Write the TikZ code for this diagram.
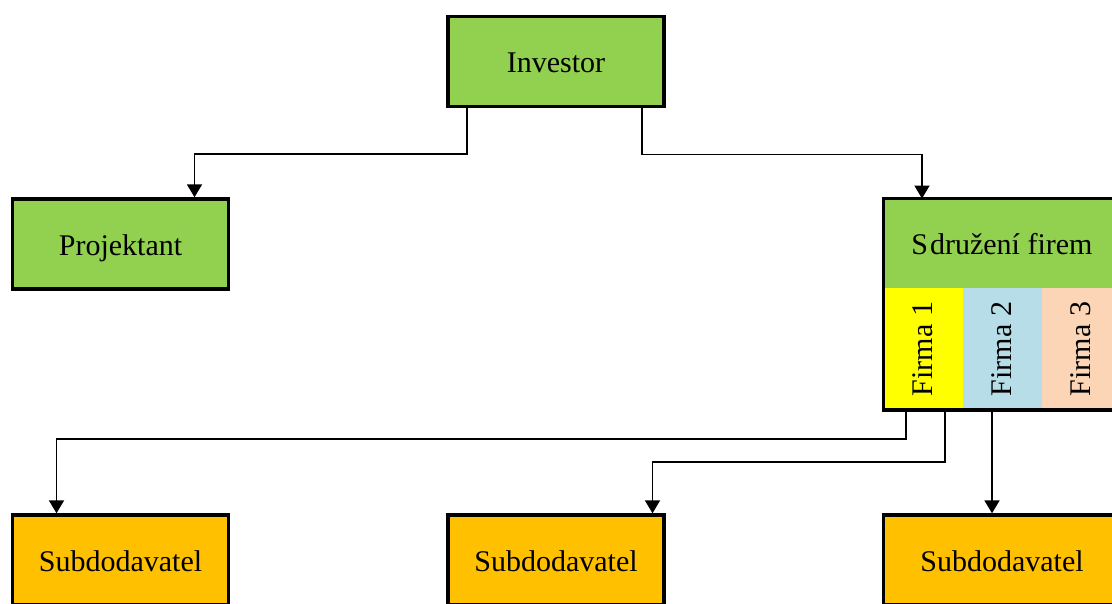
\documentclass[tikz,border=0pt]{standalone}
\usepackage{fontspec}
\setmainfont{Liberation Serif}
\usetikzlibrary{arrows.meta,calc,positioning}
\definecolor{boxgreen}{HTML}{92D050}
\definecolor{boxorange}{HTML}{FFC000}
\definecolor{firmyellow}{HTML}{FFFF00}
\definecolor{firmblue}{HTML}{B7DDE8}
\definecolor{firmpeach}{HTML}{FBD5B5}
\tikzset{
  boxfont/.style={font=\fontsize{30}{34}\selectfont, text height=22pt, text depth=0pt},
  box/.style={draw=black, line width=3.4pt, rectangle, inner sep=0pt,
    minimum width=216pt, minimum height=90pt, boxfont},
  greenbox/.style={box, fill=boxgreen},
  orangebox/.style={box, fill=boxorange},
  firmcol/.style={rectangle, inner sep=0pt, minimum width=79pt, minimum height=121.5pt,
    font=\fontsize{30}{34}\selectfont},
  conn/.style={draw=black, line width=1.9pt, -{Triangle[length=13pt,width=15pt]}}
}
\begin{document}
\begin{tikzpicture}[x=1pt,y=-1pt]
\useasboundingbox (0,0) rectangle (1112,603);
% top level
\node[greenbox] (inv) at (556,61.5) {Investor};
\node[greenbox] (proj) at (120.5,244) {Projektant};
% consortium box
\node[rectangle, fill=boxgreen, inner sep=0pt, minimum width=237pt, minimum height=89.5pt,
  boxfont] (hdr) at (1002,243.5) {S\kern2pt družení firem};
\node[firmcol, fill=firmyellow] (f1) at (923,349) {\rotatebox{90}{Firma 1}};
\node[firmcol, fill=firmblue] (f2) at (1002,349) {\rotatebox{90}{Firma 2}};
\node[firmcol, fill=firmpeach] (f3) at (1081,349) {\rotatebox{90}{Firma 3}};
\draw[line width=3.4pt] (883.5,198.5) rectangle (1120.5,409.8);
\coordinate (sdrtop) at (922,198.5);
% subcontractors
\node[orangebox] (s1) at (120.5,560) {Subdodavatel};
\node[orangebox] (s2) at (556,560) {Subdodavatel};
\node[orangebox, minimum width=237pt] (s3) at (1002,560) {Subdodavatel};
% connectors
\draw[conn] ($(inv.south west)+(21,0)$) |- ($(proj.north)+(74,-43)$) -- ($(proj.north)+(74,0)$);
\draw[conn] ($(inv.south east)+(-24,0)$) |- ($(sdrtop)+(0,-44)$) -- (sdrtop);
\draw[conn] ($(f1.south)+(-17,1.5)$) |- ($(s1.north)+(-64,-74)$) -- ($(s1.north)+(-64,0)$);
\draw[conn] ($(f2.south)+(-57,1.5)$) |- ($(s2.north)+(96.5,-51)$) -- ($(s2.north)+(96.5,0)$);
\draw[conn] ($(f2.south)+(-10,1.5)$) -- ($(s3.north)+(-10,0)$);
\end{tikzpicture}
\end{document}
